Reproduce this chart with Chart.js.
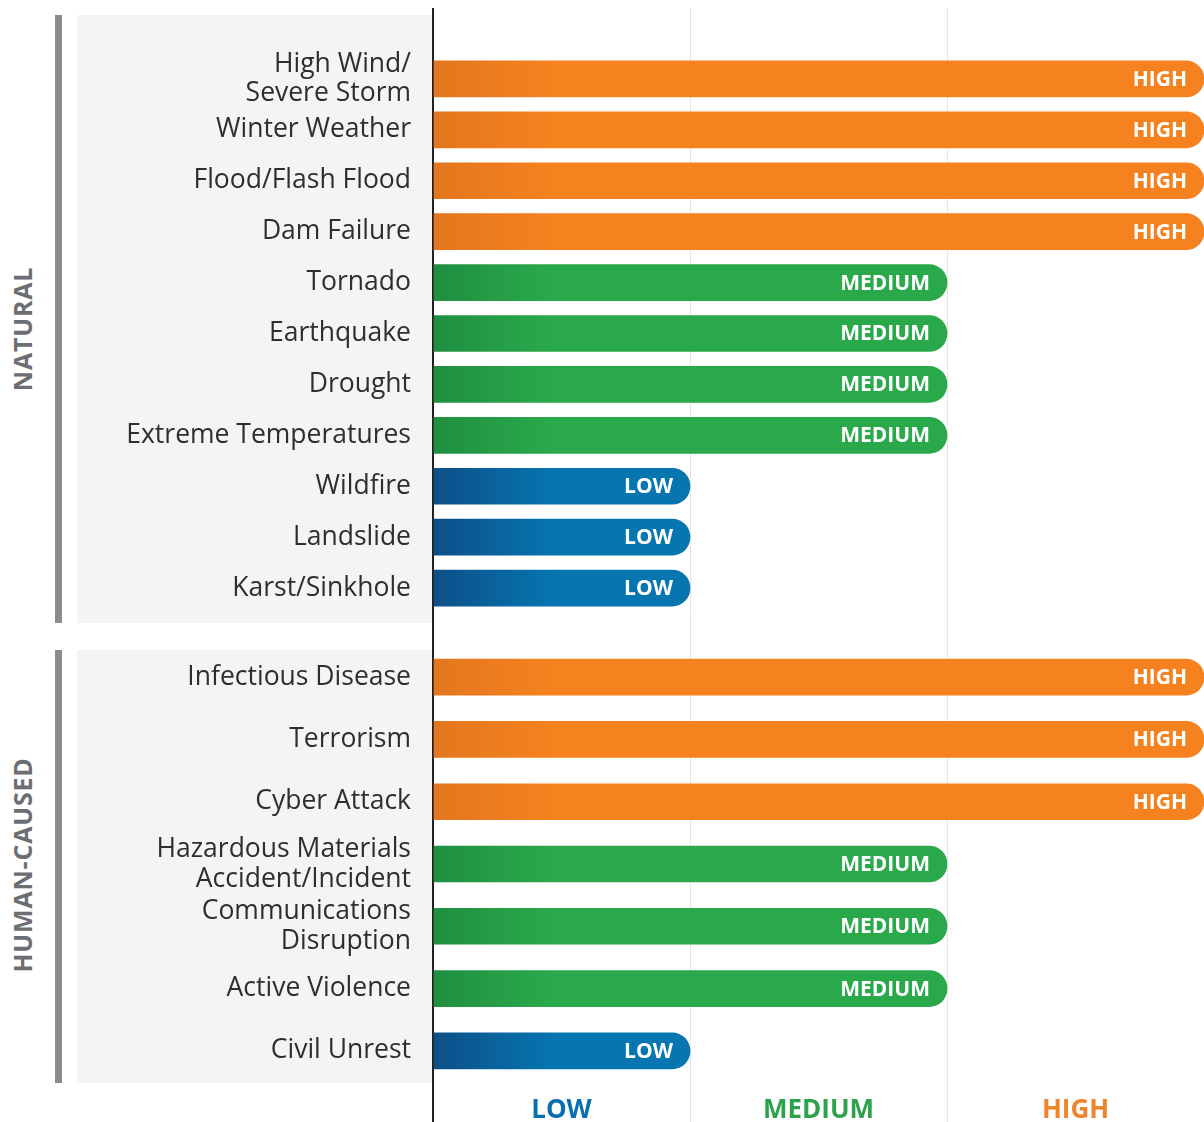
<!DOCTYPE html>
<html><head><meta charset="utf-8">
<script src="https://cdn.jsdelivr.net/npm/chart.js@4.4.1/dist/chart.umd.min.js"></script>
<style>
html,body{margin:0;padding:0;background:#fff;overflow:hidden;width:1204px;height:1122px;}
.panel{position:absolute;background:#f4f4f4;left:77px;width:356px;}
.rail{position:absolute;background:#8b8c90;left:55px;width:7px;}
.group{position:absolute;left:22px;font:bold 25px "Open Sans",sans-serif;color:#6d6e71;white-space:nowrap;transform:translate(-50%,-50%) rotate(-90deg);letter-spacing:0.8px;}
canvas{position:absolute;left:0;}
#ca{top:0;}
#cb{top:646px;}
</style></head><body>
<div class="rail" style="top:15px;height:608px"></div>
<div class="panel" style="top:15px;height:608px"></div>
<div class="rail" style="top:650px;height:433px"></div>
<div class="panel" style="top:650px;height:433px"></div>
<div class="group" style="top:329px">NATURAL</div>
<div class="group" style="top:865px">HUMAN-CAUSED</div>
<canvas id="ca" width="1204" height="646"></canvas>
<canvas id="cb" width="1204" height="476"></canvas>
<script>
// ---- data ----
const naturalHazards = [['High Wind/','Severe Storm'],'Winter Weather','Flood/Flash Flood','Dam Failure','Tornado','Earthquake','Drought','Extreme Temperatures','Wildfire','Landslide','Karst/Sinkhole'];
const naturalRisk = [3,3,3,3,2,2,2,2,1,1,1];
const humanHazards = ['Infectious Disease','Terrorism','Cyber Attack',['Hazardous Materials','Accident/Incident'],['Communications','Disruption'],'Active Violence','Civil Unrest'];
const humanRisk = [3,3,3,2,2,2,1];
const riskLevels = ['LOW','MEDIUM','HIGH'];

// ---- styles ----
const levelColors = ['#0675b0','#2aa94b','#f5821f'];
const levelDark = ['#0d4f88','#208f40','#e3761e'];
const levelText = ['#0a6fb0','#2ba24b','#f0842a'];
const AXIS_DARK = '#222';
const GRID_LIGHT = '#e6e6e6';

Chart.defaults.font.family = '"Open Sans", sans-serif';

function barColor(ctx){
  const chart = ctx.chart, area = chart.chartArea;
  const v = ctx.raw;
  if (!area || v == null) return levelColors[0];
  const g = chart.ctx.createLinearGradient(area.left, 0, area.left + 120, 0);
  g.addColorStop(0, levelDark[v-1]);
  g.addColorStop(1, levelColors[v-1]);
  return g;
}

const barLabels = {
  id: 'barLabels',
  afterDatasetsDraw(chart){
    const c = chart.ctx;
    const meta = chart.getDatasetMeta(0);
    const data = chart.data.datasets[0].data;
    c.save();
    c.font = 'bold 21px "Open Sans", sans-serif';
    c.fillStyle = '#fff';
    c.textAlign = 'right';
    c.textBaseline = 'middle';
    meta.data.forEach((bar, i) => {
      c.fillText(riskLevels[data[i]-1], bar.x - 17, bar.y + 1);
    });
    c.restore();
  }
};

const gridColor = ctx => (ctx.tick && ctx.tick.value === 0) ? AXIS_DARK : GRID_LIGHT;
const gridWidth = ctx => (ctx.tick && ctx.tick.value === 0) ? 2 : 1;

function yScale(){
  return {
    type: 'category',
    offset: true,
    z: 1,
    grid: { display: false, drawTicks: false },
    border: { display: true, color: AXIS_DARK, width: 2 },
    ticks: { color: '#2e2e2e', padding: 22, autoSkip: false, font: { size: 26.5, lineHeight: 1.13 } },
    afterFit(s){ s.width = 433; s.paddingTop = 0; s.paddingBottom = 0; }
  };
}

function linX(position, tickLength, onArea){
  return {
    type: 'linear', position, min: 0, max: 3,
    ticks: { display: false, stepSize: 1 },
    grid: { drawOnChartArea: onArea, drawTicks: tickLength > 0, tickLength: tickLength,
            color: gridColor, tickColor: gridColor, lineWidth: gridWidth },
    border: { display: false }
  };
}

function dataset(values){
  return [{ data: values, backgroundColor: barColor, barThickness: 36, borderRadius: 18, borderSkipped: 'start', xAxisID: 'x', yAxisID: 'y' }];
}

const common = {
  indexAxis: 'y', responsive: false, animation: false,
  plugins: { legend: { display: false }, tooltip: { enabled: false } }
};

new Chart(document.getElementById('ca'), {
  type: 'bar',
  data: { labels: naturalHazards, datasets: dataset(naturalRisk) },
  options: Object.assign({}, common, {
    layout: { padding: { top: 8, left: 0, right: 0, bottom: 0 } },
    scales: {
      y: yScale(),
      x: linX('top', 45.5, true),
      xb: linX('bottom', 32.5, false)
    }
  }),
  plugins: [barLabels]
});

new Chart(document.getElementById('cb'), {
  type: 'bar',
  data: { labels: humanHazards, datasets: dataset(humanRisk) },
  options: Object.assign({}, common, {
    layout: { padding: 0 },
    scales: {
      y: yScale(),
      x: linX('bottom', 0, true),
      x2: {
        type: 'category', position: 'bottom', labels: riskLevels, offset: true,
        grid: { display: true, offset: true, drawOnChartArea: false, drawTicks: true, tickLength: 40,
                color: ctx => ctx.index === 0 ? AXIS_DARK : GRID_LIGHT,
                tickColor: ctx => ctx.index === 0 ? AXIS_DARK : GRID_LIGHT,
                lineWidth: ctx => ctx.index === 0 ? 2 : 1 },
        border: { display: false },
        ticks: { padding: -27, color: ctx => levelText[ctx.index], font: { size: 26, weight: 'bold' } },
        afterFit(s){ s.height = 40; s.paddingLeft = 0; s.paddingRight = 0; }
      }
    }
  }),
  plugins: [barLabels]
});
</script>
</body></html>
